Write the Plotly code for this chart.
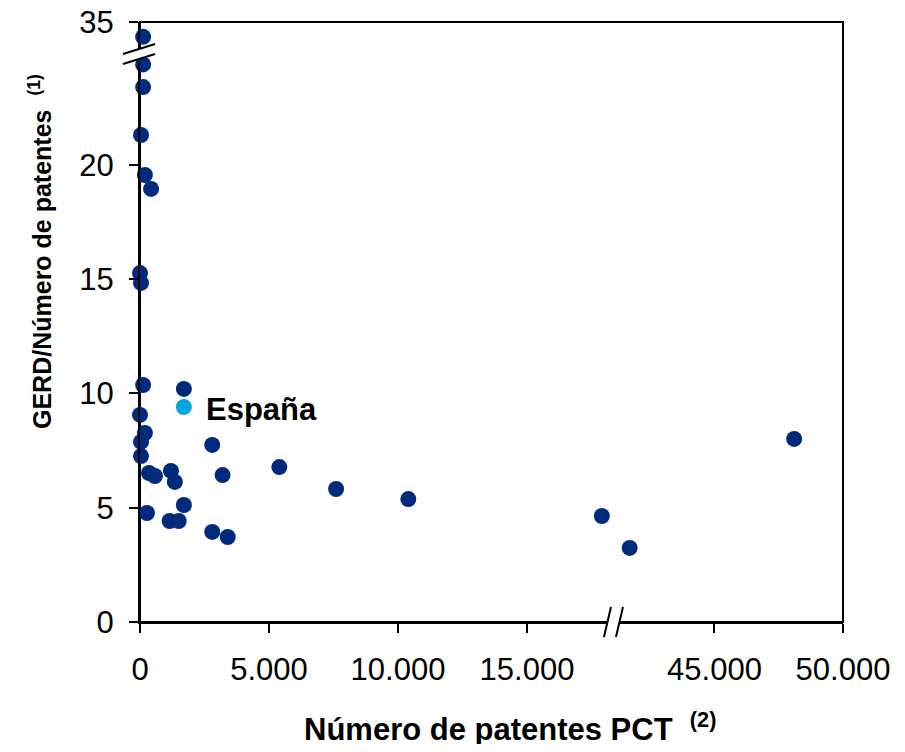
import plotly.graph_objects as go

# ---------------- data ----------------
patentes_pct = [120, 120, 120, 40, 190, 430, 0, 40, 120, 1700,
                0, 190, 40, 40, 2800, 350, 580, 1200, 1350, 3200,
                5400, 7600, 10400, 1700, 270, 1150, 1500, 2800, 3400, 17900,
                41700, 48100]
gerd_por_patente = [34.35, 24.4, 23.41, 21.31, 19.56, 18.95, 15.27, 14.84, 10.37, 10.20,
                    9.06, 8.27, 7.88, 7.26, 7.75, 6.52, 6.39, 6.61, 6.13, 6.43,
                    6.78, 5.82, 5.38, 5.12, 4.77, 4.42, 4.42, 3.94, 3.72, 4.64,
                    3.24, 8.01]
espana_x = [1700]
espana_y = [9.41]
espana_label = "España"

x_tickvals_left = [0, 5000, 10000, 15000]
x_ticktext_left = ["0", "5.000", "10.000", "15.000"]
x_tickvals_right = [45000, 50000]
x_ticktext_right = ["45.000", "50.000"]
y_tickvals_low = [0, 5, 10, 15, 20]
y_tickvals_high = [35]

x_title = "Número de patentes PCT  <sup>(2)</sup>"
y_title = "GERD/Número de patentes  <sup>(1)</sup>"

# ---------------- broken-axis geometry ----------------
X_LEFT = (0, 18350)
X_RIGHT = (41070, 50000)
Y_LOW = (0, 24.87)
Y_HIGH = (33.61, 35)
X_SPLIT = 0.6735
Y_SPLIT = 0.9472

# page is offset by the default 8px body margin
W, H = 889, 736
ML, MR, MT, MB = 132, 54, 14, 122
PW, PH = W - ML - MR, H - MT - MB      # 703 x 600
REF_L, REF_B = 140, 622                # plot-area left / bottom in page pixels

NAVY = "#002A7C"
LIGHT = "#0AA5E0"
FONT = "Liberation Sans, Arial, sans-serif"


def in_rng(v, r):
    return r[0] <= v <= r[1]


fig = go.Figure()

for xa, ya, xr, yr in [("x", "y", X_LEFT, Y_LOW), ("x2", "y", X_RIGHT, Y_LOW),
                       ("x", "y2", X_LEFT, Y_HIGH)]:
    px_ = [x for x, y in zip(patentes_pct, gerd_por_patente) if in_rng(x, xr) and in_rng(y, yr)]
    py_ = [y for x, y in zip(patentes_pct, gerd_por_patente) if in_rng(x, xr) and in_rng(y, yr)]
    fig.add_trace(go.Scatter(x=px_, y=py_, mode="markers", xaxis=xa, yaxis=ya,
                             marker=dict(size=16, color=NAVY, line=dict(width=0)),
                             cliponaxis=False, showlegend=False, hoverinfo="x+y"))

fig.add_trace(go.Scatter(x=espana_x, y=espana_y, mode="markers", xaxis="x", yaxis="y",
                         marker=dict(size=16, color=LIGHT, line=dict(width=0)),
                         cliponaxis=False, showlegend=False))

tick_font = dict(family=FONT, size=31, color="black")
common = dict(showline=True, linecolor="black", linewidth=2, ticks="outside",
              ticklen=9, tickwidth=2, tickcolor="black", showgrid=False,
              zeroline=False, tickfont=tick_font, fixedrange=True,
              ticklabeloverflow="allow", automargin=False)

fig.update_layout(
    width=W, height=H,
    margin=dict(l=ML, r=MR, t=MT, b=MB, autoexpand=False),
    paper_bgcolor="white", plot_bgcolor="white",
    font=dict(family=FONT, color="black"),
    xaxis=dict(domain=[0, X_SPLIT], range=list(X_LEFT), anchor="y",
               tickmode="array", tickvals=x_tickvals_left, ticktext=x_ticktext_left,
               ticklabelstandoff=10, **common),
    xaxis2=dict(domain=[X_SPLIT, 1], range=list(X_RIGHT), anchor="y",
                tickmode="array", tickvals=x_tickvals_right, ticktext=x_ticktext_right,
                ticklabelstandoff=10, **common),
    yaxis=dict(domain=[0, Y_SPLIT], range=list(Y_LOW), anchor="x",
               tickmode="array", tickvals=y_tickvals_low,
               ticklabelstandoff=9, **common),
    yaxis2=dict(domain=[Y_SPLIT, 1], range=list(Y_HIGH), anchor="x",
                tickmode="array", tickvals=y_tickvals_high,
                ticklabelstandoff=9, **common),
)


def P(xpx, ypx):
    """reference-page pixel -> paper coords"""
    return (xpx - REF_L) / PW, (REF_B - ypx) / PH


def path(points):
    s = ""
    for i, (a, b) in enumerate(points):
        xx, yy = P(a, b)
        s += ("M" if i == 0 else "L") + f"{xx:.5f},{yy:.5f} "
    return s + "Z"


shapes = []
# frame (top and right sides; left/bottom coincide with the axis lines)
shapes.append(dict(type="rect", xref="paper", yref="paper", x0=0, y0=0, x1=1, y1=1,
                   line=dict(color="black", width=2), fillcolor="rgba(0,0,0,0)",
                   layer="below"))

# x-axis break mark
bx = REF_L + X_SPLIT * PW
s1 = [(bx - 9.5, 637), (bx - 2.5, 607)]
s2 = [(bx + 2.5, 637), (bx + 9.5, 607)]
shapes.append(dict(type="path", xref="paper", yref="paper",
                   path=path([s1[0], s1[1], s2[1], s2[0]]),
                   fillcolor="white", line=dict(width=0), layer="above"))
for s in (s1, s2):
    (xa0, ya0), (xa1, ya1) = P(*s[0]), P(*s[1])
    shapes.append(dict(type="line", xref="paper", yref="paper", x0=xa0, y0=ya0, x1=xa1, y1=ya1,
                       line=dict(color="black", width=2), layer="above"))

# y-axis break mark
by = REF_B - Y_SPLIT * PH
t1 = [(REF_L - 17, by + 0.3), (REF_L + 15, by - 9.7)]
t2 = [(REF_L - 17, by + 10.3), (REF_L + 15, by + 0.3)]
shapes.append(dict(type="path", xref="paper", yref="paper",
                   path=path([t1[0], t1[1], t2[1], t2[0]]),
                   fillcolor="white", line=dict(width=0), layer="above"))
for s in (t1, t2):
    (xa0, ya0), (xa1, ya1) = P(*s[0]), P(*s[1])
    shapes.append(dict(type="line", xref="paper", yref="paper", x0=xa0, y0=ya0, x1=xa1, y1=ya1,
                       line=dict(color="black", width=2), layer="above"))

fig.update_layout(shapes=shapes)

annotations = [
    dict(x=espana_x[0], y=espana_y[0], xref="x", yref="y", text=f"<b>{espana_label}</b>",
         showarrow=False, xanchor="left", yanchor="middle", xshift=20, yshift=-3,
         font=dict(family=FONT, size=31, color="black")),
    dict(x=P(510, 0)[0], y=P(0, 727)[1], xref="paper", yref="paper", text=f"<b>{x_title}</b>",
         showarrow=False, xanchor="center", yanchor="middle",
         font=dict(family=FONT, size=31, color="black")),
    dict(x=P(40, 0)[0], y=P(0, 252)[1], xref="paper", yref="paper", text=f"<b>{y_title}</b>",
         showarrow=False, xanchor="center", yanchor="middle", textangle=-90,
         font=dict(family=FONT, size=25, color="black")),
]
fig.update_layout(annotations=annotations)

fig.write_html("out.html")
